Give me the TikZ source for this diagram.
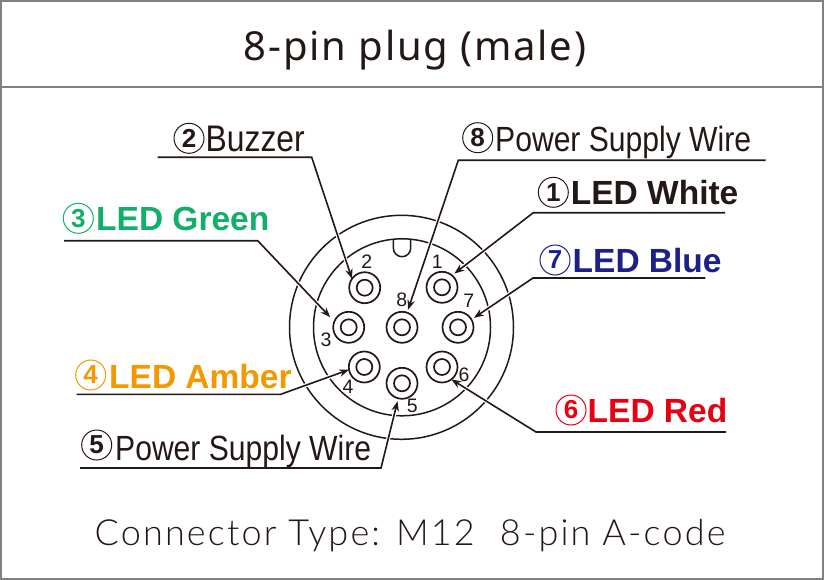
\documentclass[tikz,border=0pt]{standalone}
\usepackage{fontspec}
\usepackage{tikz}
\usetikzlibrary{arrows.meta}

\newfontfamily\headfont[LetterSpace=4.5]{Noto Sans}
\newfontfamily\footfont[LetterSpace=6]{Lato Light}
\newfontfamily\wirefont[FakeStretch=0.86]{Liberation Sans}
\newfontfamily\ledfont{Liberation Sans}

\definecolor{framegray}{HTML}{808080}
\definecolor{inkblack}{HTML}{231815}
\definecolor{ledgreen}{HTML}{13AE67}
\definecolor{ledamber}{HTML}{F39800}
\definecolor{ledblue}{HTML}{1D2088}
\definecolor{ledred}{HTML}{E60012}

\tikzset{
    ring/.style={draw=inkblack, line width=1.5pt},
    pin/.style={circle, draw=inkblack, line width=1.7pt, inner sep=0pt, outer sep=0pt, minimum size=31pt},
    hole/.style={circle, draw=inkblack, line width=1.7pt, inner sep=0pt, outer sep=0pt, minimum size=16pt},
    pinnum/.style={inkblack, inner sep=0pt, font=\ledfont\fontsize{19.5}{19.5}\selectfont},
    leader/.style={draw=inkblack, line width=1.6pt, -{Stealth[length=10pt, width=7.5pt]},
        preaction={draw=white, line width=4pt, -, shorten >=9pt}},
    numcirc/.style={circle, draw=#1, text=#1, line width=1pt, inner sep=0pt, outer sep=0pt, minimum size=30pt,
        font=\ledfont\bfseries\fontsize{26}{26}\selectfont},
    wirelabel/.style={anchor=base west, inkblack, inner sep=0pt, font=\wirefont\fontsize{35}{35}\selectfont},
    ledlabel/.style={anchor=base west, text=#1, inner sep=0pt, font=\ledfont\bfseries\fontsize{33.5}{33.5}\selectfont},
}

\begin{document}
\begin{tikzpicture}[x=1pt, y=-1pt]
                \useasboundingbox (0,0) rectangle (824,580);

                % Frame and title
                \draw[framegray, line width=2pt] (1,1) rectangle (823,579);
                \draw[framegray, line width=2pt] (0,87) -- (824,87);
                \node at (415,61) [anchor=base, inkblack, inner sep=0pt, font=\headfont\fontsize{40}{40}\selectfont] (title) {8-pin plug (male)};
                \node at (410,545) [anchor=base, inkblack, inner sep=0pt, font=\footfont\fontsize{36}{36}\selectfont] (footer) {Connector Type: M12\hspace{0.7em}8-pin A-code};

                % Connector body
                \draw[ring] (401.5,327.3) circle (112);
                \draw[ring] (402,327.3) circle (88.5);
                \draw[ring] (393.3,239.5) -- (393.3,248) arc (180:0:8.7) -- (410.7,239.5);

                % Pins
                \node at (442,287.3) [pin] (pin1) {};
                \node at (364.7,287.7) [pin] (pin2) {};
                \node at (348.7,327.3) [pin] (pin3) {};
                \node at (364.3,367) [pin] (pin4) {};
                \node at (402,383.3) [pin] (pin5) {};
                \node at (442,367) [pin] (pin6) {};
                \node at (458,327.3) [pin] (pin7) {};
                \node at (402,327.3) [pin] (pin8) {};
                \node at (pin1) [hole] (hole1) {};
                \node at (pin2) [hole] (hole2) {};
                \node at (pin3) [hole] (hole3) {};
                \node at (pin4) [hole] (hole4) {};
                \node at (pin5) [hole] (hole5) {};
                \node at (pin6) [hole] (hole6) {};
                \node at (pin7) [hole] (hole7) {};
                \node at (pin8) [hole] (hole8) {};

                % Leader lines
                \coordinate (whitestart) at (725,212.7);
                \coordinate (whitebend) at (533.3,212.7);
                \coordinate (buzzerstart) at (157.7,157.3);
                \coordinate (buzzerbend) at (311.7,157.3);
                \coordinate (greenstart) at (64,240.7);
                \coordinate (greenbend) at (257.7,240.7);
                \coordinate (amberstart) at (76.7,394.3);
                \coordinate (amberbend) at (280.7,394.3);
                \coordinate (powerastart) at (80,468);
                \coordinate (powerabend) at (381,468);
                \coordinate (redstart) at (726,432);
                \coordinate (redbend) at (536,432);
                \coordinate (bluestart) at (705.3,278);
                \coordinate (bluebend) at (533,278);
                \coordinate (powerbstart) at (765.7,160.3);
                \coordinate (powerbbend) at (458.3,160.3);
                \draw[leader, shorten >=3pt] (whitestart) -- (whitebend) -- (pin1.50);
                \draw[leader] (buzzerstart) -- (buzzerbend) -- (pin2.145);
                \draw[leader, shorten >=6pt] (greenstart) -- (greenbend) -- (pin3.158);
                \draw[leader] (amberstart) -- (amberbend) -- (pin4.190);
                \draw[leader, shorten >=3pt] (powerastart) -- (powerabend) -- (pin5.256);
                \draw[leader] (redstart) -- (redbend) -- (pin6.-53);
                \draw[leader, shorten >=3pt] (bluestart) -- (bluebend) -- (pin7.30);
                \draw[leader, shorten >=3pt] (powerbstart) -- (powerbbend) -- (pin8.71);

                % Pin numbers
                \node at (437.3,261.7) [pinnum] (num1) {1};
                \node at (366.7,261.7) [pinnum] (num2) {2};
                \node at (326,340) [pinnum] (num3) {3};
                \node at (348,386.7) [pinnum] (num4) {4};
                \node at (412.3,406) [pinnum] (num5) {5};
                \node at (464,374.3) [pinnum] (num6) {6};
                \node at (468.7,301) [pinnum] (num7) {7};
                \node at (401.7,300) [pinnum] (num8) {8};

                % Circled numbers with labels
                \node at (553.3,192.3) [numcirc=inkblack] (whitenum) {1};
                \node at (570.7,204.5) [ledlabel=inkblack] (white) {LED White};
                \node at (189,138.3) [numcirc=inkblack] (buzzernum) {2};
                \node at (205.5,151.5) [wirelabel, font=\wirefont\fontsize{37}{37}\selectfont] (buzzer) {Buzzer};
                \node at (78.3,218.3) [numcirc=ledgreen] (greennum) {3};
                \node at (96,230.7) [ledlabel=ledgreen] (green) {LED Green};
                \node at (90.7,375) [numcirc=ledamber] (ambernum) {4};
                \node at (109,388.3) [ledlabel=ledamber] (amber) {LED Amber};
                \node at (96.7,445) [numcirc=inkblack] (powerAnum) {5};
                \node at (115,460) [wirelabel] (powerA) {Power Supply Wire};
                \node at (571,410) [numcirc=ledred] (rednum) {6};
                \node at (587.5,422) [ledlabel=ledred] (red) {LED Red};
                \node at (555,260) [numcirc=ledblue] (bluenum) {7};
                \node at (572.5,272.3) [ledlabel=ledblue] (blue) {LED Blue};
                \node at (477.7,137.7) [numcirc=inkblack] (powerBnum) {8};
                \node at (495,151.5) [wirelabel] (powerB) {Power Supply Wire};
\end{tikzpicture}
\end{document}
